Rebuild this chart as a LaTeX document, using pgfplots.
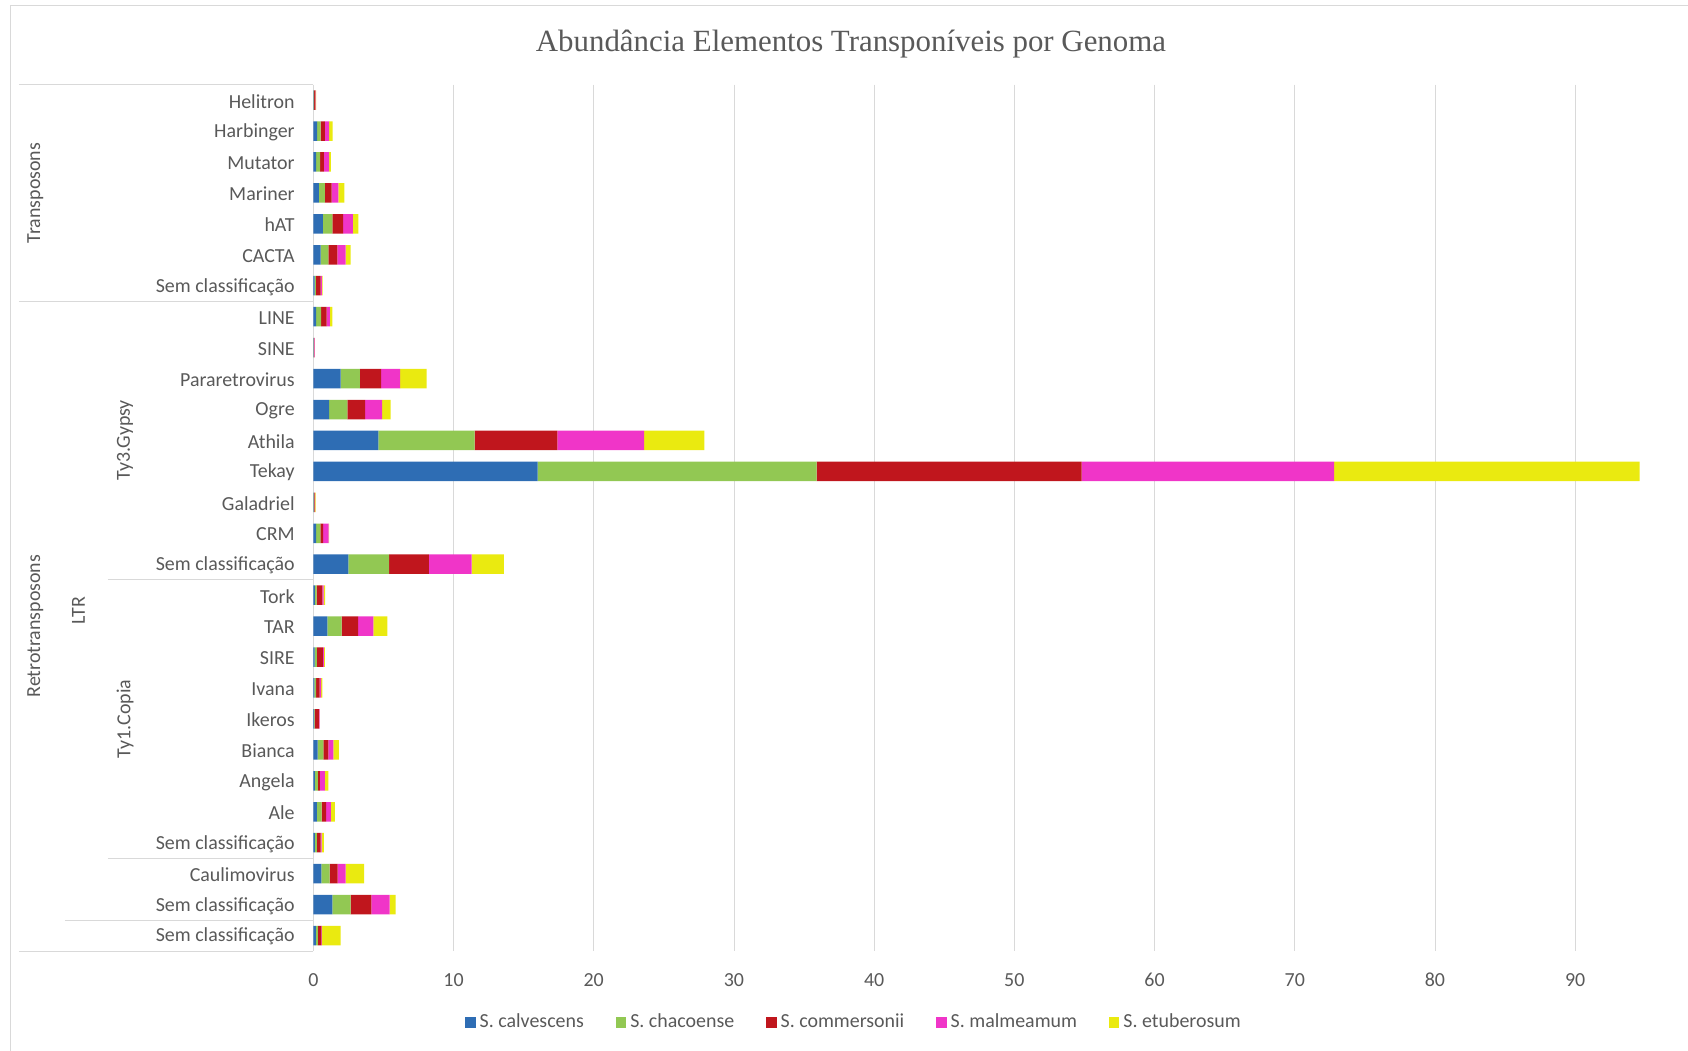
\documentclass[border=0pt]{standalone}
\usepackage{fontspec}
\setmainfont{Carlito}
\newfontfamily\titlefont{Liberation Serif}
\usepackage{pgfplots}
\usepackage{pgfplotstable}
\pgfplotsset{compat=1.18}
\definecolor{cblue}{HTML}{2E6DB4}
\definecolor{cgreen}{HTML}{92C853}
\definecolor{cred}{HTML}{C0161D}
\definecolor{cmag}{HTML}{F035C8}
\definecolor{cyel}{HTML}{EAEA10}
\definecolor{txtgray}{HTML}{595959}
\definecolor{linegray}{HTML}{D9D9D9}
\pgfplotstableread{
idx c1 c2 c3 c4 c5
0 0.03 0.03 0.08 0.03 0.03
1 0.28 0.24 0.31 0.30 0.24
2 0.20 0.28 0.28 0.36 0.14
3 0.40 0.43 0.48 0.48 0.43
4 0.69 0.67 0.76 0.71 0.38
5 0.52 0.55 0.64 0.60 0.36
6 0.10 0.08 0.35 0.08 0.05
7 0.20 0.35 0.40 0.24 0.17
8 0.02 0.02 0.02 0.03 0.02
9 1.95 1.38 1.50 1.36 1.90
10 1.12 1.31 1.26 1.21 0.62
11 4.64 6.86 5.90 6.20 4.30
12 16.0 19.9 18.9 18.0 21.8
13 0.03 0.03 0.04 0.03 0.03
14 0.20 0.30 0.20 0.40 0.03
15 2.50 2.90 2.85 3.05 2.30
16 0.12 0.12 0.40 0.10 0.10
17 1.00 1.02 1.17 1.10 1.00
18 0.10 0.15 0.43 0.08 0.07
19 0.08 0.12 0.25 0.10 0.10
20 0.05 0.05 0.30 0.05 0.02
21 0.31 0.40 0.36 0.36 0.40
22 0.12 0.20 0.15 0.35 0.25
23 0.26 0.33 0.33 0.33 0.29
24 0.12 0.14 0.26 0.07 0.17
25 0.57 0.60 0.57 0.57 1.31
26 1.36 1.31 1.47 1.31 0.43
27 0.19 0.14 0.24 0.05 1.33
}\datatable
\tikzset{grplabel/.style={font=\fontsize{10}{12}\selectfont, text=txtgray, rotate=90}}
\begin{document}
\begin{tikzpicture}
\path[use as bounding box] (0,0) rectangle (844bp,525.5bp);
\draw[linegray] (5bp,0) -- (5bp,523bp) -- (844bp,523bp);
\node[font=\titlefont\fontsize{15.5}{18}\selectfont, text=txtgray] at (425.5bp,503.5bp) {Abundância Elementos Transponíveis por Genoma};
\begin{axis}[at={(156.65bp,50bp)}, anchor=south west,
  width=673bp, height=433.2bp, scale only axis,
  xbar stacked, bar width=0.63,
  xmin=0, xmax=96, ymin=-0.5, ymax=27.5, y dir=reverse,
  clip=false,
  axis line style={draw=none},
  major tick length=0,
  /pgf/number format/assume math mode=true,
  xtick={0,10,...,90},
  xmajorgrids, major grid style={linegray},
  ytick={0,...,27},
  yticklabels={Helitron,Harbinger,Mutator,Mariner,hAT,CACTA,Sem classificação,LINE,SINE,Pararetrovirus,Ogre,Athila,Tekay,Galadriel,CRM,Sem classificação,Tork,TAR,SIRE,Ivana,Ikeros,Bianca,Angela,Ale,Sem classificação,Caulimovirus,Sem classificação,Sem classificação},
  yticklabel style={font=\fontsize{10}{12}\selectfont, text=txtgray, xshift=-5.8bp, yshift=-0.6bp},
  xticklabel style={font=\fontsize{10}{12}\selectfont, text=txtgray, yshift=-7.6bp},
  legend columns=5,
  legend style={at={(0.4025,-0.0825)}, anchor=center, draw=none, fill=none,
    font=\fontsize{10}{12}\selectfont, text=txtgray,
    /tikz/every even column/.append style={column sep=14bp}},
  legend image code/.code={\draw[#1,draw=none] (0bp,-2.6bp) rectangle (5.2bp,2.6bp);},
]
\addplot[fill=cblue, draw=none] table[x=c1, y=idx] {\datatable};
\addplot[fill=cgreen, draw=none] table[x=c2, y=idx] {\datatable};
\addplot[fill=cred, draw=none] table[x=c3, y=idx] {\datatable};
\addplot[fill=cmag, draw=none] table[x=c4, y=idx] {\datatable};
\addplot[fill=cyel, draw=none] table[x=c5, y=idx] {\datatable};
\legend{S. calvescens, S. chacoense, S. commersonii, S. malmeamum, S. etuberosum}
\draw[linegray] (axis cs:0,-0.5) -- (axis cs:0,27.5);
\draw[linegray] (axis cs:-21,-0.5) -- (axis cs:0,-0.5);
\draw[linegray] (axis cs:-21,6.5) -- (axis cs:0,6.5);
\draw[linegray] (axis cs:-14.65,15.5) -- (axis cs:0,15.5);
\draw[linegray] (axis cs:-14.65,24.5) -- (axis cs:0,24.5);
\draw[linegray] (axis cs:-17.71,26.5) -- (axis cs:0,26.5);
\draw[linegray] (axis cs:-21,27.5) -- (axis cs:0,27.5);
\node[grplabel] at (axis cs:-19.82,3) {Transposons};
\node[grplabel] at (axis cs:-19.82,17) {Retrotransposons};
\node[grplabel] at (axis cs:-16.74,16.5) {LTR};
\node[grplabel] at (axis cs:-13.43,11) {Ty3.Gypsy};
\node[grplabel] at (axis cs:-13.43,20) {Ty1.Copia};
\end{axis}
\end{tikzpicture}
\end{document}
